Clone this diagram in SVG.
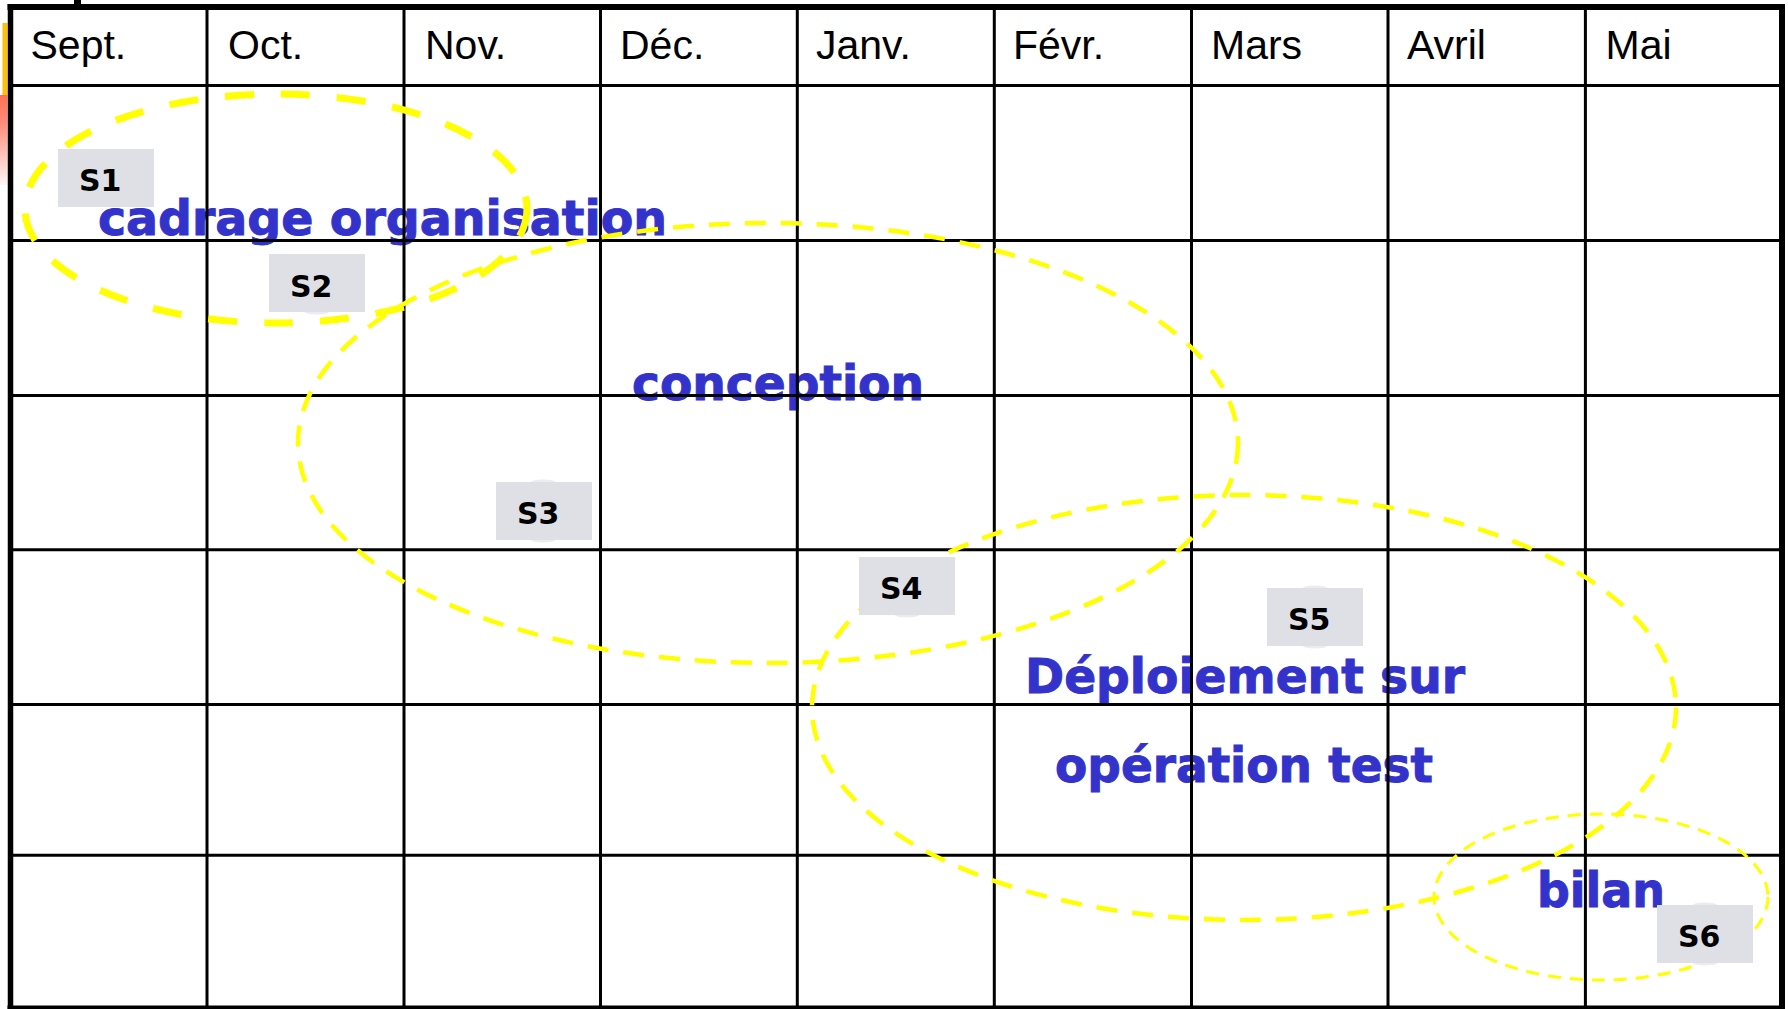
<svg xmlns="http://www.w3.org/2000/svg" width="1788" height="1009" viewBox="0 0 1788 1009">
<style>
.hdr{font-family:"Liberation Sans",Arial,sans-serif;font-size:41px;fill:#000}
.lbl{font-family:"DejaVu Sans",Verdana,sans-serif;font-weight:bold;font-size:48px;fill:#3333CC;stroke:#3333CC;stroke-width:1}
.grid{stroke:#000;stroke-width:3;fill:none}
.border{stroke:#000;fill:none}
.ph{fill:none;stroke:#FFFF00}
.box{fill:#DFDFE6}
.bump{fill:#EBEBF0}
.st{font-family:"DejaVu Sans",Verdana,sans-serif;font-weight:bold;font-size:30px;fill:#000}
</style>
<defs>
<linearGradient id="redfade" x1="0" y1="0" x2="0" y2="1">
<stop offset="0" stop-color="#FF7155"/>
<stop offset="0.3" stop-color="#FF8A78"/>
<stop offset="1" stop-color="#FFF6F6"/>
</linearGradient>
</defs>
<rect x="0" y="0" width="1788" height="1009" fill="#FFFFFF"/>
<g id="decoration">
<rect x="2.5" y="23" width="5" height="72" fill="#FFC000"/>
<rect x="0" y="95" width="7.5" height="90" fill="url(#redfade)"/>
<rect x="74" y="0" width="7" height="6" fill="#000"/>
</g>
<g id="phase-labels">
<text class="lbl" x="98" y="235" textLength="569" lengthAdjust="spacingAndGlyphs">cadrage organisation</text>
<text class="lbl" x="632" y="400" textLength="292" lengthAdjust="spacingAndGlyphs">conception</text>
<text class="lbl" x="1025" y="693" textLength="440" lengthAdjust="spacingAndGlyphs">Déploiement sur</text>
<text class="lbl" x="1055" y="782" textLength="378" lengthAdjust="spacingAndGlyphs">opération test</text>
<text class="lbl" x="1537" y="907" textLength="128" lengthAdjust="spacingAndGlyphs">bilan</text>
</g>
<g id="table">
<g class="grid">
<line x1="10" y1="85.5" x2="1782" y2="85.5"/>
<line x1="10" y1="240.5" x2="1782" y2="240.5"/>
<line x1="10" y1="395.5" x2="1782" y2="395.5"/>
<line x1="10" y1="549.8" x2="1782" y2="549.8"/>
<line x1="10" y1="704.5" x2="1782" y2="704.5"/>
<line x1="10" y1="855.2" x2="1782" y2="855.2"/>
<line x1="207" y1="7" x2="207" y2="1007"/>
<line x1="404" y1="7" x2="404" y2="1007"/>
<line x1="600.5" y1="7" x2="600.5" y2="1007"/>
<line x1="797.3" y1="7" x2="797.3" y2="1007"/>
<line x1="994.3" y1="7" x2="994.3" y2="1007"/>
<line x1="1191.5" y1="7" x2="1191.5" y2="1007"/>
<line x1="1388" y1="7" x2="1388" y2="1007"/>
<line x1="1585.4" y1="7" x2="1585.4" y2="1007"/>
</g>
<line class="border" x1="7.5" y1="7" x2="1785" y2="7" stroke-width="6"/>
<line class="border" x1="10.5" y1="4" x2="10.5" y2="1009" stroke-width="5.5"/>
<line class="border" x1="1782" y1="4" x2="1782" y2="1009" stroke-width="6"/>
<line class="border" x1="7.5" y1="1007.5" x2="1785" y2="1007.5" stroke-width="4"/>
<text class="hdr" x="30.5" y="59">Sept.</text>
<text class="hdr" x="228" y="59">Oct.</text>
<text class="hdr" x="425" y="59">Nov.</text>
<text class="hdr" x="620" y="59">Déc.</text>
<text class="hdr" x="816" y="59">Janv.</text>
<text class="hdr" x="1013" y="59">Févr.</text>
<text class="hdr" x="1211" y="59">Mars</text>
<text class="hdr" x="1407" y="59">Avril</text>
<text class="hdr" x="1605.5" y="59">Mai</text>
</g>
<g id="phases">
<ellipse id="phase-cadrage" class="ph" cx="276" cy="208.5" rx="251" ry="114.5" stroke-width="7" stroke-dasharray="29 27"/>
<ellipse id="phase-conception" class="ph" cx="768" cy="443" rx="470" ry="220" stroke-width="4.5" stroke-dasharray="21 15"/>
<ellipse id="phase-deploiement" class="ph" cx="1244" cy="707.5" rx="432" ry="212.5" stroke-width="4.5" stroke-dasharray="21 15"/>
<ellipse id="phase-bilan" class="ph" cx="1601" cy="897" rx="167" ry="83" stroke-width="3" stroke-dasharray="13 9"/>
</g>
<g id="connectors"/>
<g id="s1"><rect class="box" x="58" y="149" width="96" height="58"/><text class="st" x="79" y="191">S1</text></g>
<g id="s2"><ellipse class="bump" cx="317" cy="312" rx="12" ry="2.5"/><rect class="box" x="269" y="254" width="96" height="58"/><text class="st" x="290" y="297">S2</text></g>
<g id="s3"><ellipse class="bump" cx="543" cy="482" rx="12" ry="2.5"/><ellipse class="bump" cx="543" cy="540" rx="12" ry="2.5"/><rect class="box" x="496" y="482" width="96" height="58"/><text class="st" x="517" y="524">S3</text></g>
<g id="s4"><ellipse class="bump" cx="907" cy="615" rx="12" ry="2.5"/><rect class="box" x="859" y="557" width="96" height="58"/><text class="st" x="880" y="599">S4</text></g>
<g id="s5"><ellipse class="bump" cx="1315" cy="588" rx="12" ry="2.5"/><ellipse class="bump" cx="1315" cy="646" rx="12" ry="2.5"/><rect class="box" x="1267" y="588" width="96" height="58"/><text class="st" x="1288" y="630">S5</text></g>
<g id="s6"><ellipse class="bump" cx="1705" cy="905" rx="12" ry="2.5"/><ellipse class="bump" cx="1705" cy="963" rx="12" ry="2.5"/><rect class="box" x="1657" y="905" width="96" height="58"/><text class="st" x="1678" y="947">S6</text></g>
</svg>
